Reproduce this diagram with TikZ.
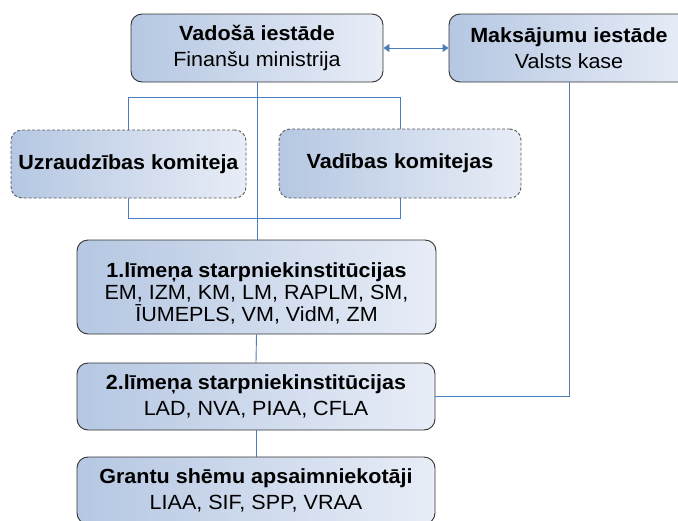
\documentclass[tikz,border=0pt]{standalone}
\usepackage{fontspec}
\setmainfont{Liberation Sans}[FakeStretch=1.05]
\usetikzlibrary{arrows.meta}
\definecolor{boxL}{HTML}{B5C7E2}
\definecolor{boxR}{HTML}{E8EDF7}
\definecolor{conn}{HTML}{4A7EBB}
\begin{document}
\begin{tikzpicture}[x=1pt,y=-1pt,
  box/.style={draw=black!80, line width=0.9pt, rounded corners=11pt,
    left color=boxL, right color=boxR, inner sep=0pt, align=center,
    font=\fontsize{20.5}{26}\selectfont},
  dbox/.style={box, draw=black!65, dashed, dash pattern=on 3pt off 2pt},
  txt/.style={inner sep=0pt, align=center, font=\fontsize{20.5}{22}\selectfont},
  link/.style={draw=conn, line width=0.9pt}]
\useasboundingbox (0,0) rectangle (678,520);
% bracket behind committees
\coordinate (bt1) at (128,97);
\coordinate (bt2) at (400,97);
\coordinate (bb2) at (400,218);
\coordinate (bb1) at (128,218);
\draw[link] (bt1) -- (bt2) -- (bb2) -- (bb1) -- cycle;
% nodes
\node[box, minimum width=252pt, minimum height=68pt] (vad) at (257,48)
  {\textbf{Vadošā iestāde}\\Finanšu ministrija};
\node[box, minimum width=240pt, minimum height=68pt] (maks) at (569,48)
  {\textbf{Maksājumu iestāde}\\Valsts kase};
\node[dbox, minimum width=235pt, minimum height=68pt] (uzr) at (128.5,164)
  {\textbf{Uzraudzības komiteja}};
\node[dbox, minimum width=242pt, minimum height=69pt] (vadk) at (400,163.5)
  {\textbf{Vadības komitejas}};
\node[box, minimum width=359pt, minimum height=94pt] (lim1) at (256.5,287) {};
\node[txt] (lim1t) at (256.5,293)
  {\textbf{1.līmeņa starpniekinstitūcijas}\\EM, IZM, KM, LM, RAPLM, SM,\\ĪUMEPLS, VM, VidM, ZM};
\node[box, minimum width=358pt, minimum height=67pt] (lim2) at (256,396.5)
  {\textbf{2.līmeņa starpniekinstitūcijas}\\LAD, NVA, PIAA, CFLA};
\node[box, minimum width=358pt, minimum height=67pt] (grant) at (256,490.5)
  {\textbf{Grantu shēmu apsaimniekotāji}\\LIAA, SIF, SPP, VRAA};
% connectors
\draw[link] (vad.south) -- (vad.south |- lim1.north);
\draw[link] (lim1.south) -- (lim2.north);
\draw[link] (lim2.south) -- (grant.north);
\draw[link] (maks.south) |- (lim2.east);
\draw[link, {Triangle[length=6pt,width=8pt]}-{Triangle[length=6pt,width=8pt]}] (vad.east) -- (maks.west);
\end{tikzpicture}
\end{document}
